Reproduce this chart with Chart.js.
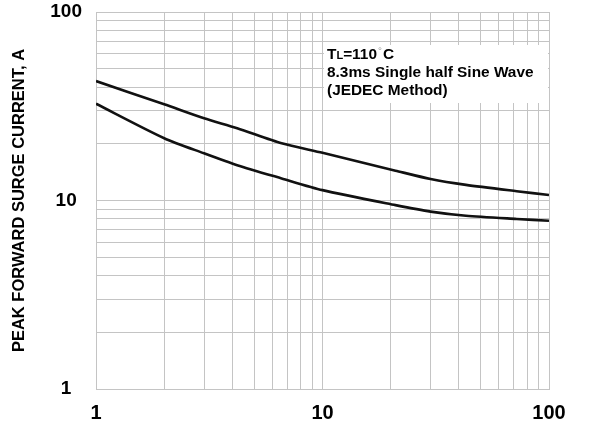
<!DOCTYPE html>
<html>
<head>
<meta charset="utf-8">
<script src="https://cdn.jsdelivr.net/npm/chart.js@4.4.1/dist/chart.umd.min.js"></script>
<style>
  html, body { margin: 0; padding: 0; background: #ffffff; }
  #wrap { width: 593px; height: 425px; position: relative; }
</style>
</head>
<body>
<div id="wrap"><canvas id="c" width="593" height="425"></canvas></div>
<script>
// ---- Data ----
const cycles = [1, 2, 3, 4.2, 6.6, 10, 21, 30, 43, 72, 100];
const upperCurrent = [43.0, 32.4, 27.3, 24.2, 20.1, 17.9, 14.4, 13.0, 12.1, 11.2, 10.7];
const lowerCurrent = [32.6, 21.4, 17.8, 15.4, 13.1, 11.35, 9.45, 8.73, 8.30, 7.98, 7.81];
const xTicks = [1,2,3,4,5,6,7,8,9,10,20,30,40,50,60,70,80,90,100];
const yTicks = [1,2,3,4,5,6,7,8,9,10,20,30,40,50,60,70,80,90,100];
const labelledTicks = [1, 10, 100];
const yTitle = 'PEAK FORWARD SURGE CURRENT, A';
const noteLines = ['8.3ms Single half Sine Wave', '(JEDEC Method)'];

const FONT = "'Liberation Sans', Arial, sans-serif";
const GRID = '#c4c4c4';

const toPts = (xs, ys) => xs.map((x, i) => ({x: x, y: ys[i]}));

const notePlugin = {
  id: 'note',
  beforeDatasetsDraw(chart) {
    const ctx = chart.ctx;
    ctx.save();
    ctx.fillStyle = '#ffffff';
    ctx.fillRect(324, 45, chart.chartArea.right - 324 - 1, 58);
    ctx.restore();
  },
  afterDatasetsDraw(chart) {
    const ctx = chart.ctx;
    const x0 = 327;
    const by = 59;
    ctx.save();
    ctx.translate(x0, 0);
    ctx.scale(1.1, 1);
    ctx.fillStyle = '#000';
    ctx.textBaseline = 'alphabetic';
    let cx = 0;
    ctx.font = "bold 14px " + FONT;
    ctx.fillText('T', cx, by); cx += ctx.measureText('T').width;
    ctx.font = "bold 10px " + FONT;
    ctx.fillText('L', cx, by); cx += ctx.measureText('L').width;
    ctx.font = "bold 14px " + FONT;
    ctx.fillText('=110', cx, by); cx += ctx.measureText('=110').width + 1;
    ctx.font = "9px " + FONT;
    ctx.fillStyle = '#999';
    ctx.fillText('°', cx, by - 5); cx += ctx.measureText('°').width + 1;
    ctx.fillStyle = '#000';
    ctx.font = "bold 14px " + FONT;
    ctx.fillText('C', cx, by);
    noteLines.forEach((t, i) => ctx.fillText(t, 0, by + 18 * (i + 1)));
    ctx.restore();
  }
};

new Chart(document.getElementById('c'), {
  type: 'line',
  data: {
    datasets: [
      { data: toPts(cycles, upperCurrent), borderColor: '#111', borderWidth: 2.6, pointRadius: 0, tension: 0.25, fill: false },
      { data: toPts(cycles, lowerCurrent), borderColor: '#111', borderWidth: 2.6, pointRadius: 0, tension: 0.25, fill: false }
    ]
  },
  options: {
    responsive: false,
    animation: false,
    devicePixelRatio: 1,
    layout: { padding: { top: 12, right: 44, left: 0, bottom: 0 } },
    plugins: { legend: { display: false }, tooltip: { enabled: false } },
    scales: {
      x: {
        type: 'logarithmic', min: 1, max: 100,
        afterBuildTicks: s => { s.ticks = xTicks.map(v => ({value: v})); },
        afterFit: s => { s.height = 36; },
        grid: { color: GRID, lineWidth: 1, drawTicks: false },
        border: { color: GRID },
        ticks: {
          autoSkip: false, maxRotation: 0, padding: 12, color: '#000',
          font: { family: FONT, size: 20, weight: 'bold' },
          callback: v => labelledTicks.includes(v) ? String(v) : ''
        }
      },
      y: {
        type: 'logarithmic', min: 1, max: 100,
        afterBuildTicks: s => { s.ticks = yTicks.map(v => ({value: v})); },
        afterFit: s => { s.width = 96; s.paddingTop = 0; s.paddingBottom = 0; },
        grid: { color: GRID, lineWidth: 1, drawTicks: false },
        border: { color: GRID },
        title: { display: true, text: yTitle, color: '#000', padding: { top: 10, bottom: 0 },
                 font: { family: FONT, size: 16.5, weight: 'bold' } },
        ticks: {
          autoSkip: false, padding: 14, color: '#000', crossAlign: 'center',
          font: { family: FONT, size: 19, weight: 'bold' },
          callback: v => labelledTicks.includes(v) ? String(v) : ''
        }
      }
    }
  },
  plugins: [notePlugin]
});
</script>
</body>
</html>
